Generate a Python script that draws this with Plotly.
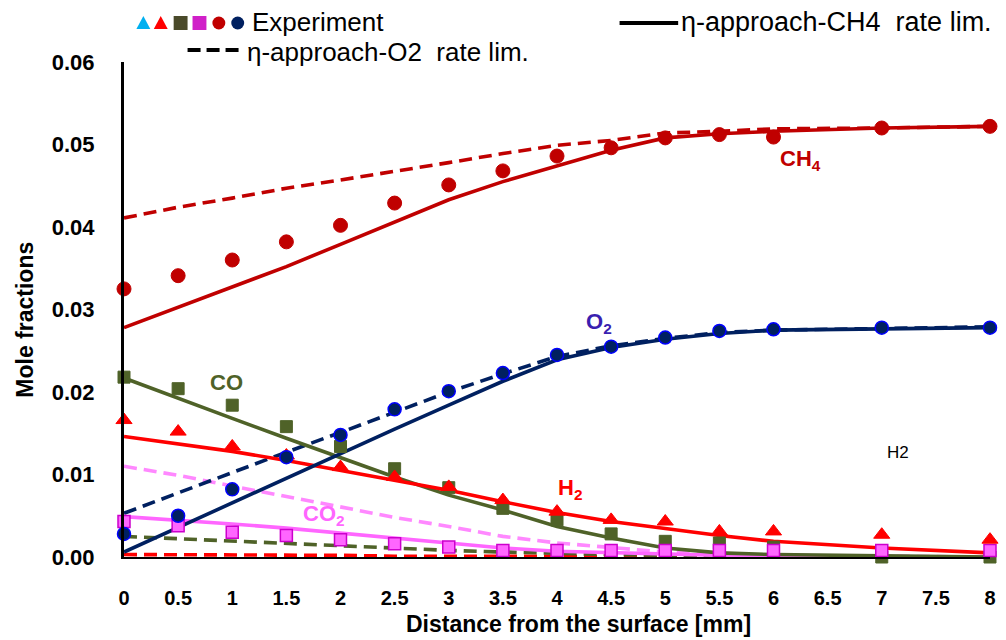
import plotly.graph_objects as go

# Distance from the surface [mm]
x_exp = [0, 0.5, 1, 1.5, 2, 2.5, 3, 3.5, 4, 4.5, 5, 5.5, 6, 7, 8]
x_mod = [0, 0.5, 1, 1.5, 2, 2.5, 3, 3.5, 4, 4.5, 5, 5.5, 6, 7, 8]

# Experimental mole fractions
ch4_exp = [0.0325, 0.0341, 0.0360, 0.0382, 0.0402, 0.0429, 0.0451, 0.0468, 0.0486, 0.0496, 0.0508, 0.0512, 0.0509, 0.0520, 0.0522]
o2_exp = [0.0028, 0.0050, 0.0082, 0.0121, 0.0148, 0.0179, 0.0201, 0.0223, 0.0245, 0.0255, 0.0266, 0.0274, 0.0276, 0.0278, 0.0278]
co_exp = [0.0218, 0.0204, 0.0184, 0.0158, 0.0134, 0.0107, 0.0084, 0.0059, 0.0045, 0.0028, 0.0019, 0.0017, 0.0012, 0.0000, 0.0000]
h2_exp = [0.0166, 0.0152, 0.0134, 0.0123, 0.0109, 0.0097, 0.0085, 0.0069, 0.0055, 0.0045, 0.0043, 0.0031, 0.0031, 0.0027, 0.0021]
co2_exp = [0.0043, 0.0038, 0.0030, 0.0026, 0.0021, 0.0016, 0.0012, 0.0008, 0.0008, 0.0008, 0.0008, 0.0008, 0.0008, 0.0008, 0.0008]

# eta-approach, CH4 rate limited (solid)
ch4_ch4lim = [0.0278, 0.0303, 0.0327, 0.0352, 0.0379, 0.0406, 0.0433, 0.0455, 0.0474, 0.0493, 0.0508, 0.0513, 0.0516, 0.0520, 0.0522]
o2_ch4lim = [0.0006, 0.0036, 0.0066, 0.0096, 0.0125, 0.0155, 0.0184, 0.0213, 0.0239, 0.0254, 0.0264, 0.0271, 0.0275, 0.0277, 0.0278]
co_ch4lim = [0.0217, 0.0192, 0.0168, 0.0144, 0.0120, 0.0097, 0.0075, 0.0057, 0.0037, 0.0023, 0.0011, 0.0005, 0.0003, 0.0001, 0.0000]
h2_ch4lim = [0.0146, 0.0137, 0.0128, 0.0117, 0.0105, 0.0093, 0.0081, 0.0067, 0.0054, 0.0043, 0.0034, 0.0026, 0.0019, 0.0011, 0.0005]
co2_ch4lim = [0.0049, 0.0045, 0.0040, 0.0035, 0.0029, 0.0023, 0.0016, 0.0011, 0.0007, 0.0005, 0.0003, 0.0002, 0.0001, 0.0001, 0.0000]

# eta-approach, O2 rate limited (dashed)
ch4_o2lim = [0.0411, 0.0424, 0.0435, 0.0447, 0.0457, 0.0467, 0.0478, 0.0489, 0.0499, 0.0505, 0.0514, 0.0516, 0.0519, 0.0520, 0.0522]
o2_o2lim = [0.0053, 0.0078, 0.0102, 0.0127, 0.0151, 0.0176, 0.0200, 0.0222, 0.0243, 0.0256, 0.0265, 0.0272, 0.0275, 0.0277, 0.0279]
co_o2lim = [0.0025, 0.0022, 0.0019, 0.0016, 0.0013, 0.0010, 0.0008, 0.0006, 0.0004, 0.0003, 0.0002, 0.0001, 0.0001, 0.0000, 0.0000]
h2_o2lim = [0.0003, 0.0003, 0.0002, 0.0002, 0.0002, 0.0001, 0.0001, 0.0001, 0.0000, 0.0000, 0.0000, 0.0000, 0.0000, 0.0000, 0.0000]
co2_o2lim = [0.0110, 0.0099, 0.0086, 0.0073, 0.0060, 0.0048, 0.0037, 0.0025, 0.0017, 0.0011, 0.0006, 0.0004, 0.0002, 0.0001, 0.0000]

x_ticks = [0, 0.5, 1, 1.5, 2, 2.5, 3, 3.5, 4, 4.5, 5, 5.5, 6, 6.5, 7, 7.5, 8]
x_tick_text = ["0", "0.5", "1", "1.5", "2", "2.5", "3", "3.5", "4", "4.5", "5", "5.5", "6", "6.5", "7", "7.5", "8"]
y_ticks = [0.00, 0.01, 0.02, 0.03, 0.04, 0.05, 0.06]

C_CH4 = "#c00000"
C_O2 = "#002060"
C_CO = "#4f6228"
C_H2 = "#ff0000"
C_CO2 = "#ff66ff"
C_CO2_DASH = "#ff88ff"

DASH = "13px,7px"
LW = 3.6

fig = go.Figure()


def line(y, color, dash=None, width=LW):
    fig.add_trace(go.Scatter(
        x=x_mod, y=y, mode="lines", showlegend=False, hoverinfo="skip",
        line=dict(color=color, width=width, dash=dash or "solid"),
    ))


def markers(y, symbol, fill, edge, size=12, edge_w=1):
    fig.add_trace(go.Scatter(
        x=x_exp, y=y, mode="markers", showlegend=False, cliponaxis=False,
        marker=dict(symbol=symbol, size=size, color=fill, line=dict(color=edge, width=edge_w)),
    ))


# dashed model curves (O2 rate limited)
line(h2_o2lim, C_H2, DASH)
line(co_o2lim, C_CO, DASH)
line(co2_o2lim, C_CO2_DASH, DASH)
line(o2_o2lim, C_O2, DASH)
line(ch4_o2lim, C_CH4, DASH)

# solid model curves (CH4 rate limited)
line(co2_ch4lim, C_CO2)
line(co_ch4lim, C_CO)
line(h2_ch4lim, C_H2)
line(o2_ch4lim, C_O2)
line(ch4_ch4lim, C_CH4)

# experimental points
markers(co_exp, "square", C_CO, C_CO, size=12)
markers(co2_exp, "square", C_CO2, "#cc00cc", size=12, edge_w=1.5)
markers(h2_exp, "triangle-up", C_H2, C_H2, size=14)
markers(o2_exp, "circle", C_O2, "#0000ff", size=13, edge_w=1.5)
markers(ch4_exp, "circle", C_CH4, C_CH4, size=14)

FONT = "Liberation Sans, Arial, sans-serif"

# species labels
labels = [
    (6.25, 0.0481, "CH<sub>4</sub>", C_CH4, 22, True),
    (4.39, 0.0284, "O<sub>2</sub>", "#3a1fb0", 22, True),
    (0.95, 0.0212, "CO", C_CO, 22, True),
    (4.12, 0.0082, "H<sub>2</sub>", C_H2, 22, True),
    (1.85, 0.0051, "CO<sub>2</sub>", C_CO2, 22, True),
    (7.15, 0.0127, "H2", "#000000", 17, False),
]
for lx, ly, txt, col, fs, b in labels:
    fig.add_annotation(
        x=lx, y=ly, xref="x", yref="y", showarrow=False,
        text=f"<b>{txt}</b>" if b else txt,
        font=dict(family=FONT, size=fs, color=col),
    )

# plot area in pixels (used to place legend items in paper units)
L, R, T, B = 124, 996, 62, 557


def px(xp):
    return (xp - L) / (R - L)


def py(yp):
    return (B - yp) / (B - T)


# legend: experiment symbols drawn as small shapes
sym_y = 23
half = 7


def tri(cx, color):
    pts = [(cx - half, sym_y + 6), (cx + half, sym_y + 6), (cx, sym_y - 7)]
    path = "M " + " L ".join(f"{px(a):.5f},{py(b):.5f}" for a, b in pts) + " Z"
    fig.add_shape(type="path", xref="paper", yref="paper", path=path,
                  fillcolor=color, line=dict(width=0))


def sq(cx, color):
    fig.add_shape(type="rect", xref="paper", yref="paper",
                  x0=px(cx - 7), x1=px(cx + 7), y0=py(sym_y + 7), y1=py(sym_y - 7),
                  fillcolor=color, line=dict(width=0))


def circ(cx, color):
    fig.add_shape(type="circle", xref="paper", yref="paper",
                  x0=px(cx - 6.5), x1=px(cx + 6.5), y0=py(sym_y + 6.5), y1=py(sym_y - 6.5),
                  fillcolor=color, line=dict(width=0))


tri(143.5, "#00b0f0")
tri(161, "#ff0000")
sq(181, "#4a4a2a")
sq(200, "#d020c8")
circ(219.5, "#c00000")
circ(238.5, "#002060")

fig.add_annotation(xref="paper", yref="paper", x=px(251), y=py(22),
                   xanchor="left", yanchor="middle", showarrow=False,
                   text="Experiment", font=dict(family=FONT, size=26, color="#000"))
fig.add_annotation(xref="paper", yref="paper", x=px(683), y=py(22),
                   xanchor="left", yanchor="middle", showarrow=False,
                   text="η-approach-CH4  rate lim.", font=dict(family=FONT, size=27, color="#000"))
fig.add_annotation(xref="paper", yref="paper", x=px(246), y=py(52),
                   xanchor="left", yanchor="middle", showarrow=False,
                   text="η-approach-O2  rate lim.", font=dict(family=FONT, size=26, color="#000"))
fig.add_shape(type="line", xref="paper", yref="paper",
              x0=px(623), x1=px(682), y0=py(23), y1=py(23),
              line=dict(color="#000", width=4))
fig.add_shape(type="line", xref="paper", yref="paper",
              x0=px(188), x1=px(240), y0=py(50), y1=py(50),
              line=dict(color="#000", width=4, dash="13px,6px"))

# axis titles
fig.add_annotation(xref="paper", yref="paper", x=px(24), y=py(320),
                   xanchor="center", yanchor="middle", showarrow=False, textangle=-90,
                   text="<b>Mole fractions</b>", font=dict(family=FONT, size=23, color="#000"))
fig.add_annotation(xref="paper", yref="paper", x=px(582), y=py(624),
                   xanchor="center", yanchor="middle", showarrow=False,
                   text="<b>Distance from the surface [mm]</b>", font=dict(family=FONT, size=23, color="#000"))

fig.update_layout(
    width=1006, height=640,
    margin=dict(l=L, r=1006 - R, t=T, b=640 - B),
    paper_bgcolor="white", plot_bgcolor="white",
    showlegend=False,
    xaxis=dict(
        range=[0, 8], tickvals=x_ticks, ticktext=x_tick_text,
        showgrid=False, zeroline=False, showline=True, linecolor="#000", linewidth=2,
        ticks="", tickfont=dict(family=FONT, size=20, color="#000", weight="bold"),
        ticklabelstandoff=22,
    ),
    yaxis=dict(
        range=[0, 0.06], tickvals=y_ticks, tickformat=".2f",
        showgrid=False, zeroline=False, showline=True, linecolor="#000", linewidth=3,
        ticks="", tickfont=dict(family=FONT, size=22, color="#000", weight="bold"),
        ticklabelstandoff=22,
    ),
)

fig.write_html("out.html")
